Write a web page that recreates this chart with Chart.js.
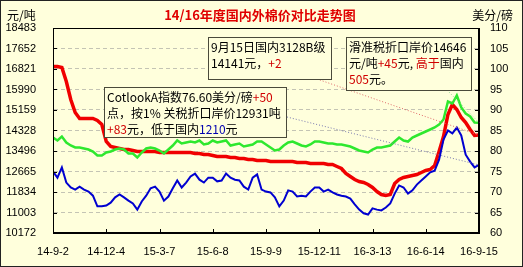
<!DOCTYPE html>
<html>
<head>
<meta charset="utf-8">
<script src="https://cdn.jsdelivr.net/npm/chart.js@4/dist/chart.umd.min.js"></script>
<style>
  body { margin: 0; background: #ffffdc; }
  canvas { display: block; }
</style>
</head>
<body>
<canvas id="cotton" width="523" height="267"></canvas>
<script>
// DONNEES
let dateLabels = ['14-9-2', '14-12-4', '15-3-7', '15-6-8', '15-9-9', '15-12-11', '16-3-13', '16-6-14', '16-9-15'];
let leftTicks = [10172, 11003, 11834, 12665, 13496, 14328, 15159, 15990, 16821, 17652, 18483];
let rightTicks = [60, 65, 70, 75, 80, 85, 90, 95, 100, 105, 110];

// 国内3128B级 (元/吨)
let domestic = [
  16922, 16922, 16881, 16314, 15584, 15057, 14814, 14814, 14814, 14814,
  14733, 14571, 13881, 13679, 13638, 13598, 13557, 13557, 13517, 13476,
  13476, 13476, 13476, 13476, 13435, 13435, 13435, 13435, 13435, 13435,
  13435, 13435, 13395, 13395, 13354, 13354, 13314, 13273, 13273, 13273,
  13233, 13233, 13192, 13192, 13152, 13152, 13111, 13111, 13111, 13071,
  13071, 13071, 13071, 13071, 13071, 13030, 13030, 13030, 12990, 12990,
  12990, 12990, 12949, 12949, 12868, 12787, 12584, 12463, 12341, 12260,
  12219, 12138, 12017, 11854, 11733, 11692, 11733, 12179, 12341, 12422,
  12463, 12503, 12544, 12625, 12706, 12746, 12908, 13476, 14084, 14976,
  15381, 15179, 14854, 14652, 14368, 14125, 14141
];

// 滑准税折口岸价 (元/吨)
let sliding = [
  14044, 13922, 14084, 13841, 13719, 13638, 13638, 13598, 13557, 13476,
  13314, 13314, 13435, 13476, 13557, 13598, 13557, 13395, 13395, 13233,
  13435, 13598, 13638, 13598, 13517, 13395, 13557, 13719, 13922, 13800,
  13841, 13881, 13841, 13922, 13760, 13800, 13922, 13841, 13881, 13922,
  13719, 13760, 13800, 13679, 13719, 13760, 13881, 13881, 13760, 13638,
  13517, 13557, 13719, 13841, 13881, 13800, 13719, 13679, 13760, 13881,
  13881, 13841, 13800, 13800, 13760, 13760, 13719, 13679, 13598, 13517,
  13476, 13435, 13557, 13638, 13638, 13679, 13719, 13881, 14044, 13922,
  13881, 14044, 14125, 14206, 14287, 14368, 14449, 14571, 14773, 15503,
  15422, 15746, 15260, 15017, 14895, 14652, 14646
];

// CotlookA指数 (美分/磅)
let cotlook = [
  75.0, 73.5, 76.0, 72.3, 71.1, 70.6, 71.3, 70.6, 70.1, 69.1,
  66.5, 66.5, 66.7, 67.4, 68.7, 69.4, 68.7, 67.9, 67.2, 65.7,
  67.7, 69.1, 70.9, 71.3, 70.1, 67.9, 68.9, 70.9, 72.8, 71.1,
  72.3, 73.8, 74.5, 73.0, 72.3, 73.5, 73.5, 72.6, 72.8, 74.5,
  73.5, 73.0, 72.8, 71.3, 70.6, 73.5, 74.3, 70.6, 70.1, 69.9,
  68.7, 66.5, 67.9, 70.4, 70.1, 68.9, 69.1, 68.9, 70.1, 71.1,
  71.1, 70.1, 70.6, 69.9, 69.4, 69.1, 68.9, 68.4, 67.0, 65.7,
  64.8, 64.5, 66.0, 65.7, 65.5, 66.2, 67.2, 69.6, 71.6, 71.1,
  69.6, 70.4, 71.8, 72.8, 73.8, 74.8, 75.2, 77.9, 82.8, 85.0,
  84.3, 85.7, 83.8, 79.1, 77.4, 76.0, 76.6
];

let stepPoints = (domestic.length - 1) / (dateLabels.length - 1);
let xIndex = domestic.map((v, i) => i);
let xTicks = dateLabels.map((d, i) => i * stepPoints);

// TEXTES DES ENCADRES
let notes = [
  { box: [208, 37, 123, 42], lines: [
    [['9月15日国内3128B级', '#000']],
    [['14141元，', '#000'], ['+2', '#d00000']]
  ]},
  { box: [346, 37, 125, 53], lines: [
    [['滑准税折口岸价14646', '#000']],
    [['元/吨', '#000'], ['+45', '#d00000'], ['元, ', '#000'], ['高于', '#d00000'], ['国内', '#000']],
    [['505', '#d00000'], ['元。', '#000']]
  ]},
  { box: [104, 87, 182, 50], lines: [
    [['CotlookA指数76.60美分/磅', '#000'], ['+50', '#d00000']],
    [['点，按1% 关税折口岸价12931吨', '#000']],
    [['+83', '#d00000'], ['元，低于国内', '#000'], ['1210', '#0000b0'], ['元', '#000']]
  ]}
];

// pointillés : depuis l'encadré vers le dernier point de la série
let links = [
  { from: [317, 79], set: 2, color: '#e06a6a' },
  { from: [447, 90], set: 1, color: '#8fd88f' },
  { from: [287, 117], set: 0, color: '#7878b0' }
];

let cjk = "'Noto Sans CJK SC', sans-serif";

let decor = {
  id: 'decor',
  beforeDraw(chart) {
    let c = chart.ctx;
    c.save();
    c.fillStyle = '#ffffdc';
    c.fillRect(0, 0, chart.width, chart.height);
    c.restore();
  },
  afterDatasetsDraw(chart) {
    let c = chart.ctx;
    c.save();
    c.lineWidth = 1;
    c.setLineDash([1, 2]);
    links.forEach(l => {
      let pts = chart.getDatasetMeta(l.set).data;
      let end = pts[pts.length - 1];
      c.strokeStyle = l.color;
      c.beginPath();
      c.moveTo(l.from[0], l.from[1]);
      c.lineTo(end.x, end.y);
      c.stroke();
    });
    c.setLineDash([]);
    c.font = '12px ' + cjk;
    c.textBaseline = 'middle';
    notes.forEach(n => {
      let [x, y, w, h] = n.box;
      c.fillStyle = '#ffffdc';
      c.fillRect(x, y, w, h);
      c.strokeStyle = '#4a4a3a';
      c.strokeRect(x + 0.5, y + 0.5, w, h);
      n.lines.forEach((line, k) => {
        let tx = x + 3;
        line.forEach(([t, col]) => {
          c.fillStyle = col;
          c.fillText(t, tx, y + 10 + k * 16);
          tx += c.measureText(t).width;
        });
      });
    });
    c.restore();
  },
  afterDraw(chart) {
    let c = chart.ctx;
    let a = chart.chartArea;
    c.save();
    c.strokeStyle = '#000';
    c.lineWidth = 1;
    c.strokeRect(a.left + 0.5, a.top + 0.5, a.right - a.left - 1, a.bottom - a.top - 1);
    // petits traits vers l'intérieur
    c.beginPath();
    leftTicks.forEach(v => {
      let y = Math.round(chart.scales.y.getPixelForValue(v)) + 0.5;
      c.moveTo(a.left, y); c.lineTo(a.left + 4, y);
    });
    rightTicks.forEach(v => {
      let y = Math.round(chart.scales.y1.getPixelForValue(v)) + 0.5;
      c.moveTo(a.right - 4, y); c.lineTo(a.right, y);
    });
    xTicks.forEach(v => {
      let x = Math.round(chart.scales.x.getPixelForValue(v)) + 0.5;
      c.moveTo(x, a.bottom); c.lineTo(x, a.bottom - 4);
    });
    c.stroke();
    c.textBaseline = 'middle';
    c.fillStyle = '#e00000';
    c.font = 'bold 13px ' + cjk;
    c.textAlign = 'center';
    c.fillText('14/16年度国内外棉价对比走势图', 260, 15);
    c.fillStyle = '#000';
    c.font = '12px ' + cjk;
    c.textAlign = 'left';
    c.fillText('元/吨', 7, 15);
    c.textAlign = 'right';
    c.fillText('美分/磅', 513, 15);
    c.strokeStyle = '#222';
    c.strokeRect(0.5, 0.5, chart.width - 1, chart.height - 1);
    c.restore();
  }
};

Chart.defaults.font.family = "'Liberation Sans', Arial, sans-serif";
Chart.defaults.font.size = 11;
Chart.defaults.color = '#000';

let ctx = document.getElementById('cotton').getContext('2d');
let cottonChart = new Chart(ctx, {
  type: 'line',
  data: {
    labels: xIndex,
    datasets: [
      { label: 'CotlookA指数', data: cotlook, yAxisID: 'y1', borderColor: '#0000d0', borderWidth: 2 },
      { label: '滑准税折口岸价', data: sliding, yAxisID: 'y', borderColor: '#2ee82e', borderWidth: 2.5 },
      { label: '国内3128B级', data: domestic, yAxisID: 'y', borderColor: '#f00000', borderWidth: 3.5 }
    ]
  },
  options: {
    responsive: false,
    animation: false,
    events: [],
    layout: { padding: { top: 28 } },
    elements: { point: { radius: 0 }, line: { tension: 0 } },
    plugins: { legend: { display: false }, tooltip: { enabled: false } },
    scales: {
      x: {
        type: 'linear',
        min: 0,
        max: domestic.length - 1,
        afterBuildTicks: s => { s.ticks = xTicks.map(v => ({ value: v })); },
        afterFit: s => { s.height = 34; },
        ticks: { autoSkip: false, maxRotation: 0, padding: 12, callback: v => dateLabels[Math.round(v / stepPoints)] },
        grid: { display: false, drawTicks: false },
        border: { display: true, color: '#000' }
      },
      y: {
        position: 'left',
        min: leftTicks[0],
        max: leftTicks[leftTicks.length - 1],
        afterBuildTicks: s => { s.ticks = leftTicks.map(v => ({ value: v })); },
        afterFit: s => { s.width = 53; },
        ticks: { padding: 17, callback: v => String(v) },
        grid: { color: '#c4c4b4', drawTicks: false },
        border: { display: true, color: '#000', dash: [4, 3] }
      },
      y1: {
        position: 'right',
        min: rightTicks[0],
        max: rightTicks[rightTicks.length - 1],
        afterBuildTicks: s => { s.ticks = rightTicks.map(v => ({ value: v })); },
        afterFit: s => { s.width = 44; },
        ticks: { padding: 11, callback: v => String(v) },
        grid: { drawOnChartArea: false, drawTicks: false },
        border: { display: true, color: '#000' }
      }
    }
  },
  plugins: [decor]
});
</script>
</body>
</html>
